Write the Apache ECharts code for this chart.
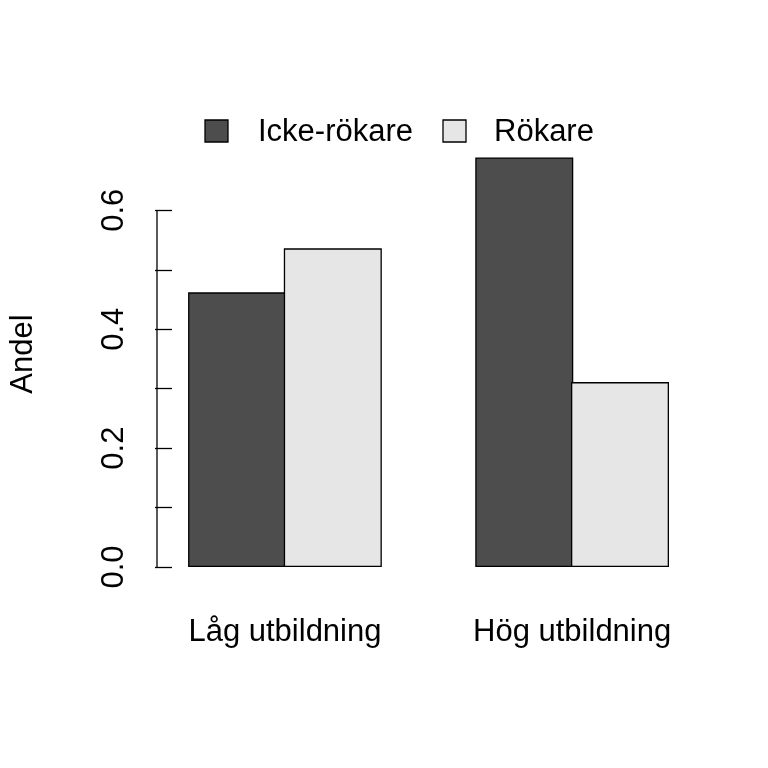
<!DOCTYPE html>
<html><head><meta charset="utf-8">
<script src="https://cdn.jsdelivr.net/npm/echarts@6/dist/echarts.min.js"></script>
<style>body{margin:0}#c{width:768px;height:768px}</style></head>
<body><div id="c"></div>
<script>
const categories = ['Låg utbildning', 'Hög utbildning'];
const seriesNames = ['Icke-rökare', 'Rökare'];
const ickeRokare = [0.462, 0.689];
const rokare = [0.536, 0.311];
const colors = ['#4d4d4d', '#e6e6e6'];
const yTicks = [0, 0.1, 0.2, 0.3, 0.4, 0.5, 0.6];
const yLabels = [0, 0.2, 0.4, 0.6];
const F = 'Liberation Sans, Arial, sans-serif';

const centers = [[1.5, 4.5], [2.5, 5.5]];
const data = [];
[ickeRokare, rokare].forEach((vals, s) => vals.forEach((v, i) =>
  data.push({value: [centers[s][i], v], itemStyle: {color: colors[s]}})));

const chart = echarts.init(document.getElementById('c'));
chart.setOption({
  animation: false,
  grid: {left: 157, right: 81, top: 141, bottom: 201},
  xAxis: {type: 'value', min: 0.82, max: 6.2, show: false},
  yAxis: {type: 'value', min: 0, max: 0.7166,
    axisLine: {show: false}, splitLine: {show: false},
    axisTick: {show: true, length: 17, customValues: yTicks, lineStyle: {color: '#000', width: 1.3}},
    axisLabel: {rotate: 90, margin: 42, fontFamily: F, fontSize: 31, color: '#000',
      customValues: yLabels, formatter: v => v.toFixed(1)},
    name: 'Andel', nameLocation: 'middle', nameGap: 133, nameRotate: 90,
    nameTextStyle: {fontFamily: F, fontSize: 31, color: '#000'}},
  series: [{type: 'bar', barWidth: 98, data: data,
    itemStyle: {borderColor: '#000', borderWidth: 1.3}}]
});
const p0 = chart.convertToPixel({gridIndex: 0}, [0.82, 0]);
const p6 = chart.convertToPixel({gridIndex: 0}, [0.82, 0.6]);
const g = [{type: 'line', shape: {x1: 157, y1: p0[1], x2: 157, y2: p6[1]}, style: {stroke: '#000', lineWidth: 1.3}}];
categories.forEach((c, i) => {
  const x = chart.convertToPixel({gridIndex: 0}, [(centers[0][i] + centers[1][i]) / 2, 0])[0];
  g.push({type: 'text', x: x, y: 632, style: {text: c, font: '31px ' + F, fill: '#000', textAlign: 'center', textVerticalAlign: 'middle'}});
});
const lx = [[205, 258], [443, 494]];
seriesNames.forEach((n, i) => {
  g.push({type: 'rect', shape: {x: lx[i][0], y: 120, width: 23, height: 22}, style: {fill: colors[i], stroke: '#000', lineWidth: 1.3}});
  g.push({type: 'text', x: lx[i][1], y: 132, style: {text: n, font: '31px ' + F, fill: '#000', textVerticalAlign: 'middle'}});
});
chart.setOption({graphic: g});
</script></body></html>
